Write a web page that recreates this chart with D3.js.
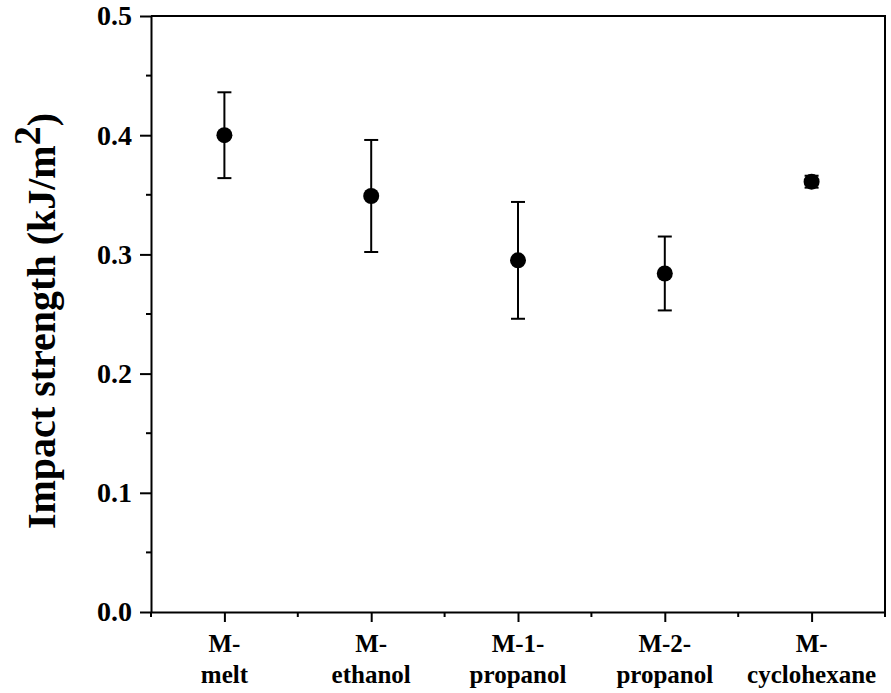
<!DOCTYPE html>
<html>
<head>
<meta charset="utf-8">
<script src="https://cdn.jsdelivr.net/npm/d3@7"></script>
<style>
  body { margin: 0; background: #fff; }
</style>
</head>
<body>
<script>
// data
const categories = [["M-", "melt"], ["M-", "ethanol"], ["M-1-", "propanol"], ["M-2-", "propanol"], ["M-", "cyclohexane"]];
const impact = [0.400, 0.349, 0.295, 0.284, 0.361];
const errors = [0.036, 0.047, 0.049, 0.031, 0.005];
const yTicks = [0.0, 0.1, 0.2, 0.3, 0.4, 0.5];

const W = 891, H = 693;
const mLeft = 151, mRight = 885, mTop = 16, mBottom = 612;
const serif = "'Liberation Serif'";

const svg = d3.select("body").append("svg")
    .attr("width", W)
    .attr("height", H);

const x = d3.scaleLinear().domain([0.5, 5.5]).range([mLeft, mRight]);
const y = d3.scaleLinear().domain([0, 0.5]).range([mBottom, mTop]);

// frame (top + right)
svg.append("path")
    .attr("d", `M${mLeft},${mTop}H${mRight}V${mBottom}`)
    .attr("fill", "none")
    .attr("stroke", "#000")
    .attr("stroke-width", 2);

// y axis
const yAxis = svg.append("g")
    .attr("transform", `translate(${mLeft},0)`)
    .call(d3.axisLeft(y).tickValues(yTicks).tickFormat(d3.format(".1f")).tickSize(11).tickSizeOuter(0));
yAxis.select(".domain").attr("stroke-width", 2);
yAxis.selectAll(".tick line").attr("stroke-width", 2);
yAxis.selectAll(".tick text")
    .attr("x", -19)
    .style("font-family", serif)
    .style("font-weight", "bold")
    .style("font-size", "28px");

// minor y ticks
svg.selectAll("line.yminor")
    .data(d3.range(0.05, 0.5, 0.1))
    .enter().append("line")
    .attr("class", "yminor")
    .attr("x1", mLeft - 5).attr("x2", mLeft)
    .attr("y1", d => y(d)).attr("y2", d => y(d))
    .attr("stroke", "#000").attr("stroke-width", 2);

// x axis
const xAxis = svg.append("g")
    .attr("transform", `translate(0,${mBottom})`)
    .call(d3.axisBottom(x).tickValues(d3.range(1, 6)).tickFormat("").tickSize(10).tickSizeOuter(0));
xAxis.select(".domain").attr("stroke-width", 2);
xAxis.selectAll(".tick line").attr("stroke-width", 2);

// minor x ticks
svg.selectAll("line.xminor")
    .data(d3.range(0.5, 6, 1))
    .enter().append("line")
    .attr("class", "xminor")
    .attr("x1", d => x(d)).attr("x2", d => x(d))
    .attr("y1", mBottom).attr("y2", mBottom + 5)
    .attr("stroke", "#000").attr("stroke-width", 2);

// category labels (two lines)
const lab = svg.selectAll("text.cat")
    .data(categories)
    .enter().append("text")
    .attr("class", "cat")
    .attr("text-anchor", "middle")
    .style("font-family", serif)
    .style("font-weight", "bold")
    .style("font-size", "25px")
    .attr("transform", (d, i) => `translate(${x(i + 1)},0)`);
lab.append("tspan").attr("x", 0).attr("y", 652).text(d => d[0]);
lab.append("tspan").attr("x", 0).attr("y", 683).text(d => d[1]);

// error bars
const eb = svg.selectAll("g.err")
    .data(impact)
    .enter().append("g")
    .attr("class", "err");
eb.append("line")
    .attr("x1", (d, i) => x(i + 1)).attr("x2", (d, i) => x(i + 1))
    .attr("y1", (d, i) => y(d + errors[i])).attr("y2", (d, i) => y(d - errors[i]))
    .attr("stroke", "#000").attr("stroke-width", 2);
eb.append("line")
    .attr("x1", (d, i) => x(i + 1) - 7).attr("x2", (d, i) => x(i + 1) + 7)
    .attr("y1", (d, i) => y(d + errors[i])).attr("y2", (d, i) => y(d + errors[i]))
    .attr("stroke", "#000").attr("stroke-width", 2);
eb.append("line")
    .attr("x1", (d, i) => x(i + 1) - 7).attr("x2", (d, i) => x(i + 1) + 7)
    .attr("y1", (d, i) => y(d - errors[i])).attr("y2", (d, i) => y(d - errors[i]))
    .attr("stroke", "#000").attr("stroke-width", 2);

// points
svg.selectAll("circle.pt")
    .data(impact)
    .enter().append("circle")
    .attr("class", "pt")
    .attr("cx", (d, i) => x(i + 1))
    .attr("cy", d => y(d))
    .attr("r", 8)
    .attr("fill", "#000");

// y label
const yl = svg.append("text")
    .attr("transform", `translate(55,${321}) rotate(-90)`)
    .attr("text-anchor", "middle")
    .style("font-family", serif)
    .style("font-weight", "bold")
    .style("font-size", "40px");
yl.append("tspan").text("Impact strength (kJ/m");
yl.append("tspan").style("font-size", "38px").attr("dy", -15).text("2");
yl.append("tspan").attr("dy", 15).text(")");
</script>
</body>
</html>
